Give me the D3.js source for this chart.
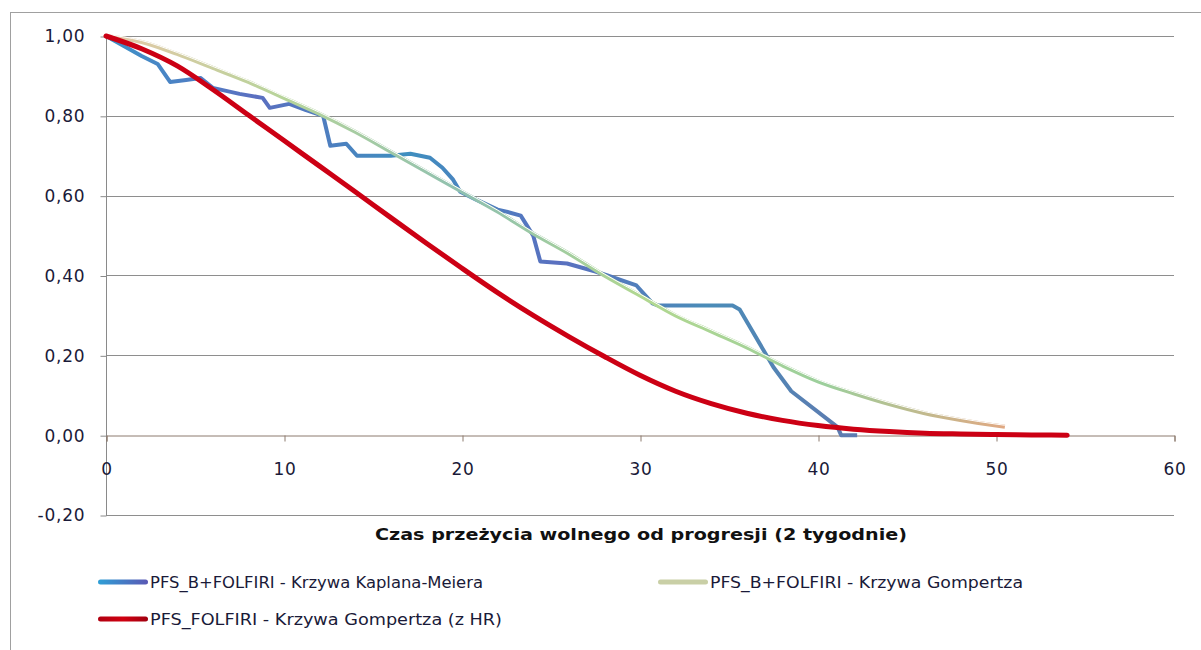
<!DOCTYPE html>
<html>
<head>
<meta charset="utf-8">
<script src="https://cdn.jsdelivr.net/npm/d3@7"></script>
<style>
    body { margin: 0; background: #fff; }
    svg { display: block; }
</style>
</head>
<body>
<svg id="chart" width="1201" height="650"></svg>
<script>
var xTicks = [0, 10, 20, 30, 40, 50, 60];
var yTicks = [-0.2, 0, 0.2, 0.4, 0.6, 0.8, 1.0];

var kmTime = [0, 1, 2, 2.9, 3.6, 4.5, 5.3, 6.0, 7.5, 8.8, 9.2, 10.3, 11.2, 12.2, 12.6, 13.5, 14.1, 16, 17.1, 18.2, 18.9, 19.5, 19.9, 20.8, 22, 22.5, 23.3, 24, 24.4, 25.9, 27.5, 28.5, 29.8, 30.7, 31, 35.2, 35.6, 37.5, 38.5, 41.1, 41.3, 42.2];
var kmValue = [1.0, 0.975, 0.95, 0.93, 0.885, 0.89, 0.895, 0.87, 0.855, 0.845, 0.82, 0.83, 0.815, 0.80, 0.725, 0.73, 0.70, 0.70, 0.705, 0.695, 0.67, 0.64, 0.61, 0.59, 0.565, 0.56, 0.55, 0.50, 0.435, 0.43, 0.41, 0.395, 0.375, 0.33, 0.325, 0.325, 0.315, 0.17, 0.11, 0.02, 0.0, 0.0];

var gompTime = [0, 2, 4, 6, 8, 10, 12, 14, 16, 18, 20, 22, 24, 26, 28, 30, 32, 34, 36, 38, 40, 42, 44, 46, 48, 50, 50.5];
var gompValue = [1.0, 0.985, 0.955, 0.92, 0.885, 0.845, 0.805, 0.76, 0.71, 0.66, 0.61, 0.56, 0.505, 0.455, 0.40, 0.35, 0.30, 0.26, 0.22, 0.175, 0.135, 0.105, 0.078, 0.055, 0.038, 0.024, 0.021];

var hrTime = [0, 2, 4, 6, 8, 10, 12, 14, 16, 18, 20, 22, 24, 26, 28, 30, 32, 34, 36, 38, 40, 42, 44, 46, 48, 50, 52, 54];
var hrValue = [1.0, 0.968, 0.925, 0.866, 0.802, 0.738, 0.674, 0.61, 0.545, 0.481, 0.418, 0.357, 0.30, 0.247, 0.197, 0.15, 0.11, 0.079, 0.055, 0.037, 0.024, 0.015, 0.009, 0.005, 0.003, 0.0015, 0.0007, 0];

var legendLabels = [
    "PFS_B+FOLFIRI - Krzywa Kaplana-Meiera",
    "PFS_B+FOLFIRI - Krzywa Gompertza",
    "PFS_FOLFIRI - Krzywa Gompertza (z HR)"
];
var xTitle = "Czas przeżycia wolnego od progresji (2 tygodnie)";

function Chart(selector) {
    return {
        svg: d3.select(selector),
        draw: function() {
            var svg = this.svg;
            var left = 106, right = 1174, top = 36, bottom = 515;
            var textColor = "#1a1a38";
            var font = "'DejaVu Sans', Verdana, sans-serif";

            var x = d3.scaleLinear().domain([0, 60]).range([left, right]);
            var y = d3.scaleLinear().domain([-0.2, 1.0]).range([bottom, top]);

            var fmt = function(v) { return d3.format(".2f")(v).replace(".", ",").replace("−", "-"); };

            // ramka wykresu
            svg.append("line").attr("x1", 10).attr("x2", 1201).attr("y1", 12.5).attr("y2", 12.5)
                .attr("stroke", "#a0a0a0").attr("stroke-width", 1);
            svg.append("line").attr("x1", 10.5).attr("x2", 10.5).attr("y1", 12).attr("y2", 650)
                .attr("stroke", "#a0a0a0").attr("stroke-width", 1);

            // siatka pozioma
            svg.append("g")
                .selectAll("line")
                .data(yTicks.filter(function(d) { return d !== 0; }))
                .enter()
                .append("line")
                .attr("x1", left).attr("x2", right)
                .attr("y1", function(d) { return Math.round(y(d)) + 0.5; })
                .attr("y2", function(d) { return Math.round(y(d)) + 0.5; })
                .attr("stroke", "#8e8e8e")
                .attr("stroke-width", 1);

            // os Y
            var yAxis = svg.append("g")
                .attr("transform", "translate(" + (left + 0.5) + ",0.5)")
                .call(d3.axisLeft(y).tickValues(yTicks).tickSize(6).tickFormat(fmt));
            yAxis.select(".domain").attr("stroke", "#8a8a8a").attr("d", "M0," + top + "V" + bottom);
            yAxis.selectAll(".tick line").attr("stroke", "#8a8a8a");
            yAxis.selectAll(".tick text")
                .attr("x", -21)
                .attr("fill", textColor)
                .attr("font-size", 17)
                .attr("font-family", font)
                .attr("letter-spacing", 0.8);

            // os X (na poziomie 0)
            var xAxis = svg.append("g")
                .attr("transform", "translate(0.5," + (Math.round(y(0)) + 0.5) + ")")
                .call(d3.axisBottom(x).tickValues(xTicks).tickSize(6).tickFormat(d3.format("d")));
            xAxis.select(".domain").attr("stroke", "#8c7b6e");
            xAxis.selectAll(".tick line").attr("stroke", "#8c7b6e");
            xAxis.selectAll(".tick text")
                .attr("y", 27)
                .attr("fill", textColor)
                .attr("font-size", 17)
                .attr("font-family", font)
                .attr("letter-spacing", 0.8);

            // gradienty
            var defs = svg.append("defs");
            var grads = [
                { id: "kmGrad", stops: ["#3d93c8", "#5b6fc0", "#3f8fbf", "#5a70c0", "#4a8cb8", "#5f7ab0"] },
                { id: "gompGrad", stops: ["#e6c8a8", "#b6d49a", "#8fc0b0", "#b2d890", "#9ccf9c", "#e0a882"] },
                { id: "legKm", stops: ["#2f9fd6", "#5a58b4"] },
                { id: "legRed", stops: ["#b00010", "#d00010", "#a00010"] }
            ];
            grads.forEach(function(g) {
                var lg = defs.append("linearGradient").attr("id", g.id)
                    .attr("x1", "0%").attr("x2", "100%").attr("y1", "0%").attr("y2", "0%");
                g.stops.forEach(function(c, i) {
                    lg.append("stop").attr("offset", (i / (g.stops.length - 1) * 100) + "%").attr("stop-color", c);
                });
            });

            var line = d3.line()
                .x(function(d) { return x(d[0]); })
                .y(function(d) { return y(d[1]); });

            var km = d3.zip(kmTime, kmValue);
            var gomp = d3.zip(gompTime, gompValue);
            var hr = d3.zip(hrTime, hrValue);

            svg.append("path")
                .attr("d", line(km))
                .attr("fill", "none")
                .attr("stroke", "url(#kmGrad)")
                .attr("stroke-width", 4)
                .attr("stroke-linejoin", "round");

            var smooth = d3.line().curve(d3.curveMonotoneX)
                .x(function(d) { return x(d[0]); })
                .y(function(d) { return y(d[1]); });

            svg.append("path")
                .attr("d", smooth(gomp))
                .attr("fill", "none")
                .attr("stroke", "url(#gompGrad)")
                .attr("stroke-width", 4);
            svg.append("path")
                .attr("d", smooth(gomp))
                .attr("transform", "translate(0,-1.5)")
                .attr("fill", "none")
                .attr("stroke", "#ffffff")
                .attr("stroke-width", 1);

            svg.append("path")
                .attr("d", smooth(hr))
                .attr("fill", "none")
                .attr("stroke", "#cc0014")
                .attr("stroke-width", 5)
                .attr("stroke-linecap", "round");

            // tytul osi X
            svg.append("text")
                .attr("x", 641)
                .attr("y", 540)
                .attr("text-anchor", "middle")
                .attr("font-family", font)
                .attr("font-weight", "bold")
                .attr("font-size", 15)
                .attr("fill", "#111")
                .attr("textLength", 532)
                .attr("lengthAdjust", "spacingAndGlyphs")
                .text(xTitle);

            // legenda
            var legendData = [
                { x: 98, y: 582, text: legendLabels[0], color: "url(#legKm)", len: 333 },
                { x: 658, y: 582, text: legendLabels[1], color: "#c9cfa6", len: 313 },
                { x: 98, y: 619, text: legendLabels[2], color: "url(#legRed)", len: 352 }
            ];
            var items = svg.selectAll("g.legend")
                .data(legendData)
                .enter()
                .append("g")
                .attr("class", "legend")
                .attr("transform", function(d) { return "translate(" + d.x + "," + d.y + ")"; });
            items.append("rect")
                .attr("x", 0).attr("y", -2.5)
                .attr("width", 50).attr("height", 5)
                .attr("rx", 2.5)
                .attr("fill", function(d) { return d.color; });
            items.append("text")
                .attr("x", 52)
                .attr("y", 6)
                .attr("font-family", font)
                .attr("font-size", 16)
                .attr("fill", textColor)
                .attr("textLength", function(d) { return d.len; })
                .attr("lengthAdjust", "spacingAndGlyphs")
                .text(function(d) { return d.text; });
        }
    };
}

Chart("#chart").draw();
</script>
</body>
</html>
